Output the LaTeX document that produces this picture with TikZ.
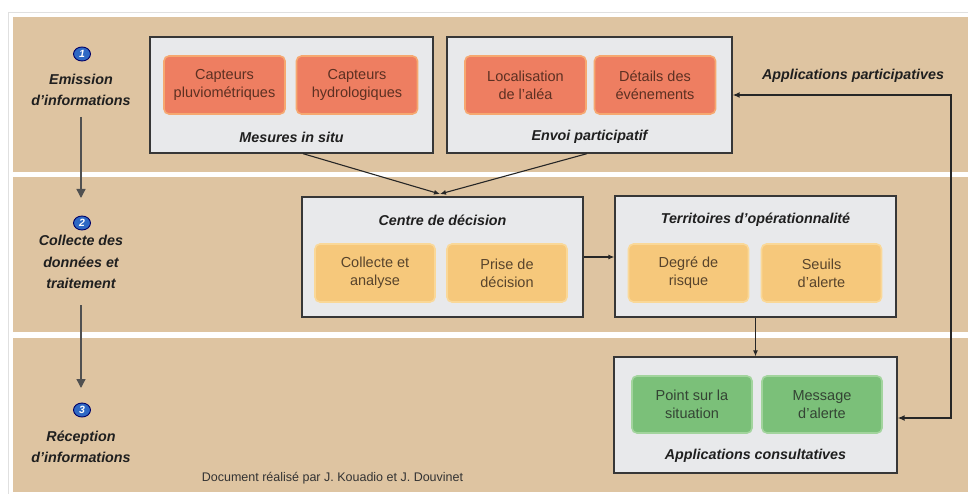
\documentclass[tikz,border=0pt]{standalone}
\usepackage{fontspec}
\setmainfont{Liberation Sans}
\usetikzlibrary{arrows.meta,shapes.geometric}
\definecolor{tan}{RGB}{222,196,161}
\definecolor{boxfill}{RGB}{232,233,235}
\definecolor{boxline}{RGB}{55,55,55}
\definecolor{orf}{RGB}{238,126,97}
\definecolor{ord}{RGB}{246,168,112}
\definecolor{ort}{RGB}{92,48,34}
\definecolor{yef}{RGB}{246,200,123}
\definecolor{yed}{RGB}{250,216,152}
\definecolor{yet}{RGB}{88,68,44}
\definecolor{grf}{RGB}{123,192,121}
\definecolor{grd}{RGB}{162,212,157}
\definecolor{grt}{RGB}{52,68,52}
\definecolor{bluec}{RGB}{46,104,196}
\definecolor{garr}{RGB}{80,80,80}
\tikzset{
  band/.style={fill=tan, draw=none},
  outerbox/.style={draw=boxline, line width=1.3pt, fill=boxfill, inner sep=0pt},
  inner/.style={rounded corners=5pt, line width=1.6pt, inner sep=0pt, align=center,
     font=\fontsize{14.5}{18}\selectfont},
  obox/.style={inner, fill=orf, draw=ord, text=ort, minimum width=121pt, minimum height=58pt},
  ybox/.style={inner, fill=yef, draw=yed, text=yet, minimum width=120pt, minimum height=58pt},
  gbox/.style={inner, fill=grf, draw=grd, text=grt, minimum width=120pt, minimum height=57pt},
  title/.style={font=\fontsize{14.3}{18}\selectfont\bfseries\itshape, text=black!88, inner sep=0pt},
  sidelab/.style={font=\fontsize{14.3}{21.5}\selectfont\bfseries\itshape, text=black!88, align=center, inner sep=0pt},
  numc/.style={ellipse, fill=bluec, draw=black!60!blue, line width=0.9pt, minimum width=17pt, minimum height=14pt, inner sep=0pt, text=white, font=\fontsize{10.5}{10.5}\selectfont\bfseries\itshape},
  conn/.style={draw=black!85, line width=1.1pt, -{Latex[length=6pt,width=5pt]}},
  loopc/.style={draw=black!85, line width=1.7pt, {Latex[length=7pt,width=6pt]}-{Latex[length=7pt,width=6pt]}},
  garrow/.style={draw=garr, line width=1.3pt, -{Triangle[length=9pt,width=9pt]}},
}
\begin{document}
\begin{tikzpicture}[x=1pt,y=-1pt]
\useasboundingbox (0,0) rectangle (968,494);
\fill[white] (0,0) rectangle (968,494);
\draw[black!12, line width=0.8pt] (8,12) -- (968,12);
\draw[black!12, line width=0.8pt] (8,12) -- (8,494);
% bands
\fill[band] (13,17) rectangle (968,172);
\fill[band] (13,177) rectangle (968,332);
\fill[band] (13,338) rectangle (968,492);

% Emission row
\node[outerbox, minimum width=283pt, minimum height=116pt] (mesures) at (291.5,95) {};
\node[obox] (pluvio) at (224.5,85) {Capteurs\\pluviométriques};
\node[obox] (hydro) at (357,85) {Capteurs\\hydrologiques};
\node[title] (mesurest) at (291.5,137) {Mesures in situ};

\node[outerbox, minimum width=285pt, minimum height=116pt] (envoi) at (589.5,95) {};
\node[obox] (local) at (525.5,85) {Localisation\\de l’aléa};
\node[obox] (details) at (655,85) {Détails des\\événements};
\node[title] (envoit) at (589.5,137) {Envoi participatif};

% Collecte row
\node[outerbox, minimum width=281pt, minimum height=120pt] (centre) at (442.5,257) {};
\node[title] (centret) at (442.5,220) {Centre de décision};
\node[ybox] (collecte) at (375,273) {Collecte et\\analyse};
\node[ybox] (prise) at (507,273) {Prise de\\décision};

\node[outerbox, minimum width=281pt, minimum height=121pt] (terr) at (755.5,256.5) {};
\node[title] (terrt) at (755.5,220) {Territoires d’opérationnalité};
\node[ybox] (degre) at (688.5,273) {Degré de\\risque};
\node[ybox] (seuils) at (821.5,273) {Seuils\\d’alerte};

% Reception row
\node[outerbox, minimum width=283pt, minimum height=116pt] (consult) at (755.5,415) {};
\node[gbox] (point) at (692,404.5) {Point sur la\\situation};
\node[gbox] (message) at (822,404.5) {Message\\d’alerte};
\node[title] (consultt) at (755.5,456) {Applications consultatives};

\node[title] (partt) at (853,76) {Applications participatives};

% connectors
\coordinate (meet) at (440,194);
\draw[conn] ([xshift=11.5pt]mesures.south) -- (meet);
\draw[conn] ([xshift=-2.5pt]envoi.south) -- (meet);
\draw[conn] (centre.east) -- (centre.east -| terr.west);
\draw[conn] (terr.south) -- (consult.north);
\draw[loopc] (envoi.east) -- ++(218,0) |- ([yshift=-3pt]consult.east);

% left column
\node[numc] (n1) at (82,54) {1};
\node[sidelab] (s1) at (81,90) {Emission\\d’informations};
\node[numc] (n2) at (82,223) {2};
\node[sidelab] (s2) at (81,262) {Collecte des\\données et\\traitement};
\node[numc] (n3) at (82,410) {3};
\node[sidelab] (s3) at (81,447) {Réception\\d’informations};
\coordinate (a1s) at (81,117);
\coordinate (a1e) at (81,198);
\coordinate (a2s) at (81,305);
\coordinate (a2e) at (81,388);
\draw[garrow] (a1s) -- (a1e);
\draw[garrow] (a2s) -- (a2e);

\node[font=\fontsize{12.5}{14}\selectfont, text=black!80, inner sep=0pt] (doc) at (332.5,478) {Document réalisé par J. Kouadio et J. Douvinet};
\end{tikzpicture}
\end{document}
